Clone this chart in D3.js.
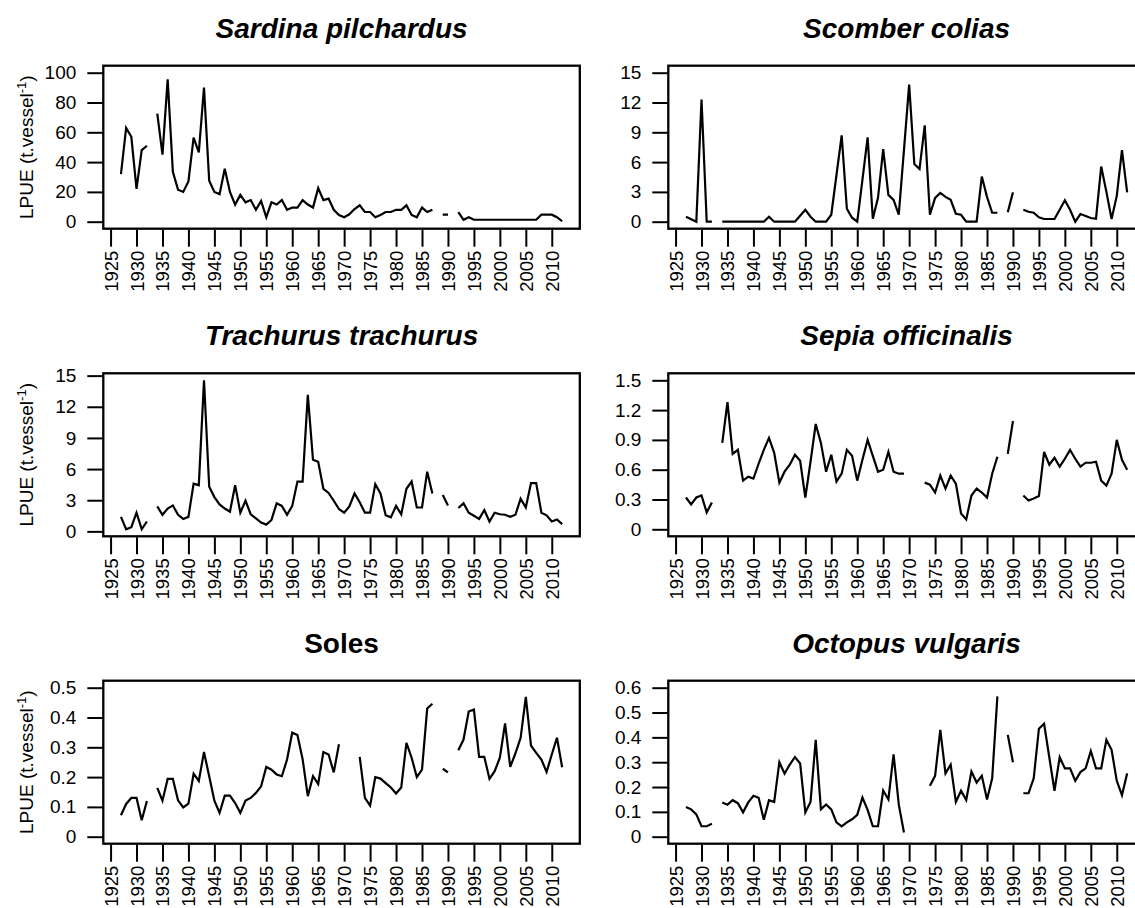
<!DOCTYPE html>
<html>
<head>
<meta charset="utf-8">
<script src="https://cdn.jsdelivr.net/npm/d3@7"></script>
<style>
    body { margin: 0; background: #fff; }
    svg { display: block; font-family: "Liberation Sans", Arial, sans-serif; }
</style>
</head>
<body>
<svg id="chart" width="1135" height="908"></svg>
<script>
const years = d3.range(1927, 2013);
const yearTicks = d3.range(1925, 2011, 5);

// LPUE series, one value per year 1927-2012 (null = no record)
const sardina = [32, 63, 57, 22, 48, 51, null, 72.5, 45, 95.5, 33.5, 21.5, 20, 27, 56.5, 46.5, 90, 27.5, 20, 18.5,
    35.5, 20, 11.5, 18, 13, 14.5, 8, 14, 3, 13, 11.5, 14.5, 8, 9.5, 9.5, 14.5, 11.5, 9.5, 22.5, 14.5,
    15.5, 8, 4.5, 3, 5, 8.5, 11, 6.5, 6.5, 3, 4.5, 6.5, 6.5, 8, 8, 11, 4.5, 3, 9.5, 6.5,
    8, null, 4.7, 4.7, null, 6.5, 1.3, 3, 1.3, 1.3, 1.3, 1.3, 1.3, 1.3, 1.3, 1.3, 1.3, 1.3, 1.3, 1.3,
    1.3, 4.7, 4.7, 4.7, 3, 0.3];

const scomber = [0.5, 0.25, 0, 12.3, 0, 0, null, 0, 0, 0, 0, 0, 0, 0, 0, 0, 0.5, 0, 0, 0,
    0, 0, 0.6, 1.2, 0.5, 0, 0, 0, 0.7, 4.7, 8.7, 1.3, 0.4, 0, 4.2, 8.5, 0.3, 2.4, 7.3, 2.7,
    2.2, 0.7, 7.2, 13.8, 5.8, 5.3, 9.7, 0.7, 2.4, 2.9, 2.5, 2.2, 0.8, 0.7, 0, 0, 0, 4.55, 2.5, 0.9,
    0.9, null, 0.95, 2.95, null, 1.2, 1.0, 0.9, 0.45, 0.27, 0.27, 0.27, 1.2, 2.15, 1.2, 0, 0.77, 0.57, 0.37, 0.3,
    5.55, 3.0, 0.27, 2.6, 7.2, 2.95];

const trachurus = [1.4, 0.2, 0.4, 1.8, 0.2, 0.95, null, 2.4, 1.6, 2.2, 2.5, 1.6, 1.2, 1.4, 4.6, 4.45, 14.55, 4.3, 3.3, 2.6,
    2.2, 1.9, 4.45, 1.8, 2.95, 1.65, 1.25, 0.85, 0.65, 1.1, 2.7, 2.45, 1.6, 2.45, 4.8, 4.8, 13.15, 6.9, 6.7, 4.1,
    3.7, 2.95, 2.15, 1.8, 2.4, 3.65, 2.8, 1.8, 1.8, 4.55, 3.65, 1.55, 1.35, 2.45, 1.65, 4.1, 4.8, 2.3, 2.3, 5.75,
    3.65, null, 3.5, 2.5, null, 2.25, 2.7, 1.8, 1.5, 1.2, 2.05, 0.95, 1.8, 1.65, 1.6, 1.4, 1.6, 3.15, 2.3, 4.65,
    4.65, 1.8, 1.55, 0.95, 1.15, 0.7];

const sepia = [0.32, 0.25, 0.32, 0.34, 0.17, 0.27, null, 0.87, 1.28, 0.76, 0.8, 0.49, 0.53, 0.51, 0.66, 0.8, 0.92, 0.77, 0.47, 0.58,
    0.65, 0.75, 0.69, 0.32, 0.68, 1.06, 0.87, 0.58, 0.75, 0.48, 0.56, 0.8, 0.74, 0.49, 0.7, 0.9, 0.74, 0.58, 0.6, 0.78,
    0.58, 0.56, 0.56, null, null, null, 0.47, 0.45, 0.37, 0.54, 0.41, 0.54, 0.46, 0.16, 0.1, 0.34, 0.41, 0.37, 0.32, 0.56,
    0.73, null, 0.76, 1.09, null, 0.34, 0.29, 0.31, 0.335, 0.78, 0.65, 0.72, 0.63, 0.71, 0.8, 0.71, 0.63, 0.67, 0.67, 0.68,
    0.49, 0.44, 0.56, 0.9, 0.7, 0.6];

const soles = [0.072, 0.11, 0.13, 0.13, 0.055, 0.12, null, 0.164, 0.121, 0.194, 0.194, 0.122, 0.098, 0.111, 0.211, 0.187, 0.284, 0.203, 0.121, 0.08,
    0.138, 0.138, 0.113, 0.08, 0.121, 0.13, 0.147, 0.169, 0.234, 0.225, 0.209, 0.203, 0.259, 0.349, 0.341, 0.26, 0.136, 0.203, 0.177, 0.284,
    0.276, 0.216, 0.31, null, null, null, 0.268, 0.13, 0.104, 0.2, 0.195, 0.18, 0.165, 0.145, 0.165, 0.315, 0.265, 0.2, 0.225, 0.43,
    0.446, null, 0.228, 0.216, null, 0.29, 0.326, 0.42, 0.427, 0.268, 0.268, 0.194, 0.22, 0.265, 0.38, 0.234, 0.28, 0.332, 0.469, 0.306,
    0.281, 0.259, 0.217, 0.276, 0.332, 0.233];

const octopus = [0.12, 0.11, 0.09, 0.042, 0.042, 0.052, null, 0.138, 0.129, 0.147, 0.135, 0.098, 0.138, 0.165, 0.157, 0.068, 0.147, 0.14, 0.3, 0.254,
    0.29, 0.321, 0.295, 0.098, 0.14, 0.39, 0.11, 0.13, 0.11, 0.058, 0.042, 0.058, 0.07, 0.088, 0.158, 0.108, 0.042, 0.042, 0.186, 0.15,
    0.332, 0.13, 0.017, null, null, null, null, 0.205, 0.245, 0.43, 0.255, 0.29, 0.14, 0.185, 0.148, 0.262, 0.218, 0.245, 0.15, 0.235,
    0.565, null, 0.41, 0.3, null, 0.175, 0.175, 0.235, 0.435, 0.455, 0.32, 0.185, 0.32, 0.275, 0.275, 0.225, 0.26, 0.275, 0.345, 0.275,
    0.275, 0.39, 0.35, 0.225, 0.167, 0.255];

const titles = ['Sardina pilchardus', 'Scomber colias', 'Trachurus trachurus', 'Sepia officinalis', 'Soles', 'Octopus vulgaris'];
const italicTitle = [true, true, true, true, false, true];
const yTicks = [
    [0, 20, 40, 60, 80, 100],
    [0, 3, 6, 9, 12, 15],
    [0, 3, 6, 9, 12, 15],
    [0, 0.3, 0.6, 0.9, 1.2, 1.5],
    [0, 0.1, 0.2, 0.3, 0.4, 0.5],
    [0, 0.1, 0.2, 0.3, 0.4, 0.5, 0.6]
];
// fixed y limits; null means the range of the data is used
const yLimits = [[0, 100], [0, 15], null, [0, 1.5], [0, 0.5], [0, 0.6]];
const series = [sardina, scomber, trachurus, sepia, soles, octopus];

const svg = d3.select('#chart');

// ---- layout of the 3 x 2 grid of plot boxes
const colLeft = [103.3, 668.3];
const rowTop = [65.7, 373.3, 680.7];
const boxW = 476.5;
const boxH = 163;
const pad = 0.047;

svg.append('rect')
    .attr('width', 1135)
    .attr('height', 908)
    .attr('fill', '#fff');

const drawPanel = (i) => {
    const left = colLeft[i % 2];
    const top = rowTop[Math.floor(i / 2)];
    const values = series[i];
    const data = years.map((yr, k) => ({ x: yr, y: values[k] }));

    const lim = yLimits[i] || d3.extent(values.filter(v => v != null));
    const span = lim[1] - lim[0];

    const mapX = d3.scaleLinear()
        .domain([1927 - 85 * 0.04, 2012 + 85 * 0.04])
        .range([left, left + boxW]);
    const mapY = d3.scaleLinear()
        .domain([lim[0] - span * pad, lim[1] + span * pad])
        .range([top + boxH, top]);

    const g = svg.append('g');

    // ---- eixos
    const yAxis = d3.axisLeft(mapY)
        .tickValues(yTicks[i])
        .tickFormat(d => String(d))
        .tickSize(16)
        .tickPadding(11);
    const gy = g.append('g')
        .attr('transform', `translate(${left}, 0)`)
        .call(yAxis);

    const xAxis = d3.axisBottom(mapX)
        .tickValues(yearTicks)
        .tickFormat(d => String(d))
        .tickSize(17);
    const gx = g.append('g')
        .attr('transform', `translate(0, ${top + boxH + 1})`)
        .call(xAxis);

    [gx, gy].forEach(ax => {
        ax.select('.domain').remove();
        ax.selectAll('.tick line')
            .attr('stroke', '#000')
            .attr('stroke-width', 2);
        ax.selectAll('.tick text')
            .attr('fill', '#000')
            .style('font-size', '19px')
            .style('font-family', '"Liberation Sans", Arial, sans-serif');
    });

    gx.selectAll('.tick text')
        .style('font-size', '18.5px')
        .attr('transform', 'rotate(-90)')
        .attr('text-anchor', 'end')
        .attr('x', -21)
        .attr('y', 0)
        .attr('dy', '0.35em');

    // ---- linha da série (quebrada onde falta valor)
    const line = d3.line()
        .defined(d => d.y != null)
        .x(d => mapX(d.x))
        .y(d => mapY(d.y));

    g.append('path')
        .datum(data)
        .attr('d', line)
        .attr('fill', 'none')
        .attr('stroke', '#000')
        .attr('stroke-width', 2.2)
        .attr('stroke-linejoin', 'miter');

    g.append('rect')
        .attr('x', left)
        .attr('y', top)
        .attr('width', boxW)
        .attr('height', boxH)
        .attr('fill', 'none')
        .attr('stroke', '#000')
        .attr('stroke-width', 2.3);

    g.append('text')
        .attr('x', left + boxW / 2)
        .attr('y', top - 28)
        .attr('text-anchor', 'middle')
        .style('font-size', '28px')
        .style('font-weight', 'bold')
        .style('font-style', italicTitle[i] ? 'italic' : 'normal')
        .text(titles[i]);

    if (i % 2 === 0) {
        const label = g.append('text')
            .attr('transform', `translate(33, ${top + boxH / 2}) rotate(-90)`)
            .attr('text-anchor', 'middle')
            .style('font-size', '19px');
        label.append('tspan').text('LPUE (t.vessel');
        label.append('tspan')
            .attr('baseline-shift', 'super')
            .style('font-size', '13px')
            .text('-1');
        label.append('tspan').text(')');
    }
};

titles.forEach((t, i) => drawPanel(i));
</script>
</body>
</html>
